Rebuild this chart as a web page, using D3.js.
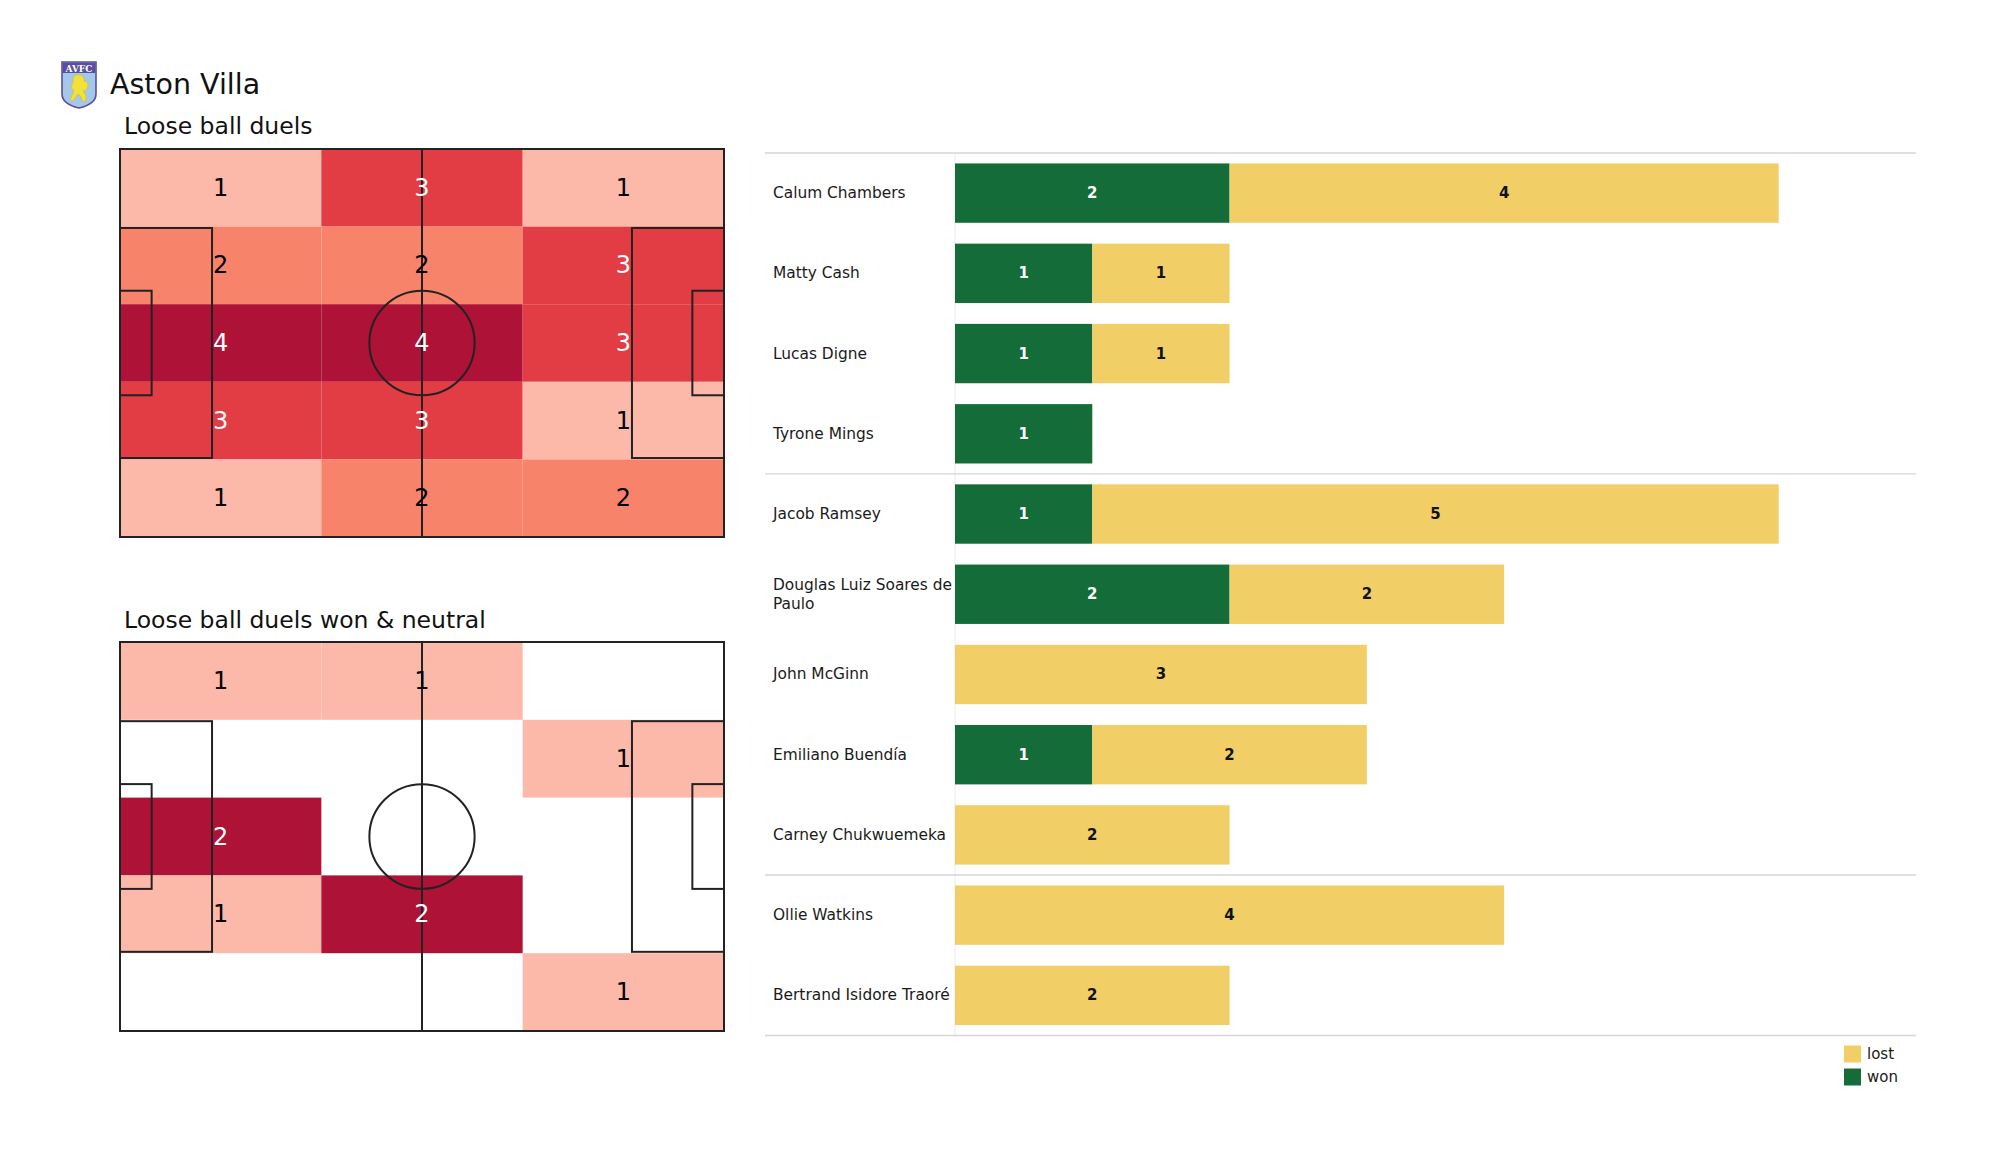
<!DOCTYPE html>
<html>
<head>
<meta charset="utf-8">
<script src="https://cdn.jsdelivr.net/npm/d3@7"></script>
<style>
  html, body { margin: 0; padding: 0; background: #fff; }
  svg { display: block; font-family: "DejaVu Sans", sans-serif; }
</style>
</head>
<body>
<svg id="chart" width="2000" height="1175"></svg>
<script>
// ---------- DATA ----------
const teamName = "Aston Villa";
const pitchTitles = ["Loose ball duels", "Loose ball duels won & neutral"];
// heatmap rows top -> bottom, columns left -> right
const duelsGrid = [
  [1, 3, 1],
  [2, 2, 3],
  [4, 4, 3],
  [3, 3, 1],
  [1, 2, 2]
];
const wonNeutralGrid = [
  [1, 1, 0],
  [0, 0, 1],
  [2, 0, 0],
  [1, 2, 0],
  [0, 0, 1]
];
const players = [
  "Calum Chambers", "Matty Cash", "Lucas Digne", "Tyrone Mings",
  "Jacob Ramsey", "Douglas Luiz Soares de Paulo", "John McGinn",
  "Emiliano Buendía", "Carney Chukwuemeka",
  "Ollie Watkins", "Bertrand Isidore Traoré"
];
const wonValues  = [2, 1, 1, 1, 1, 2, 0, 1, 0, 0, 0];
const lostValues = [4, 1, 1, 0, 5, 2, 3, 2, 2, 4, 2];
const groupSizes = [4, 5, 2];
const legendLabels = ["lost", "won"];

// ---------- STYLE ----------
const heatColors = ["#fcb9aa", "#f8836b", "#e23d45", "#ae1237"];
const wonColor = "#146c38";
const lostColor = "#f1ce66";
const lineColor = "#222";

const svg = d3.select("#chart");

// ---------- HEADER ----------
const logo = svg.append("g").attr("transform", "translate(61,60)");
logo.append("path")
  .attr("d", "M1,2 L35,2 L35,34 Q35,44 18,48 Q1,44 1,34 Z")
  .attr("fill", "#a3c8ea").attr("stroke", "#5a4f9e").attr("stroke-width", 1.6);
logo.append("path")
  .attr("d", "M1.8,2.8 L34.2,2.8 L34.2,13 L1.8,13 Z")
  .attr("fill", "#5a4f9e");
logo.append("text").attr("x", 18).attr("y", 11.5).attr("text-anchor", "middle")
  .attr("font-family", "DejaVu Serif, serif").attr("font-weight", "bold")
  .attr("font-size", 9).attr("fill", "#fff").text("AVFC");
logo.append("path")
  .attr("d", "M12,18 Q14,14 19,15 Q24,16 23,21 Q27,21 27,26 Q26,31 22,31 Q26,35 25,41 L21,41 Q21,36 17,34 Q14,38 12,41 L9,40 Q11,35 13,31 Q9,28 11,24 Q13,22 12,18 Z")
  .attr("fill", "#f2e13a").attr("stroke", "#d9b820").attr("stroke-width", 0.6);

svg.append("text").attr("x", 110).attr("y", 94)
  .attr("font-size", 28.5).attr("fill", "#111").text(teamName);

// ---------- PITCHES ----------
const pitchLen = 105, pitchWid = 68;
const pitchBoxes = [
  { x0: 120, x1: 724, y0: 149, y1: 537, titleY: 134, grid: duelsGrid },
  { x0: 120, x1: 724, y0: 642, y1: 1031, titleY: 628, grid: wonNeutralGrid }
];

pitchBoxes.forEach((pb, i) => {
  const xs = d3.scaleLinear().domain([0, pitchLen]).range([pb.x0, pb.x1]);
  const ys = d3.scaleLinear().domain([0, pitchWid]).range([pb.y0, pb.y1]);
  const g = svg.append("g");

  svg.append("text").attr("x", 124).attr("y", pb.titleY)
    .attr("font-size", 23.5).attr("fill", "#111").text(pitchTitles[i]);

  const nRows = pb.grid.length, nCols = pb.grid[0].length;
  const cw = pitchLen / nCols, ch = pitchWid / nRows;
  const flat = pb.grid.flat();
  const nz = flat.filter(v => v > 0);
  const vmin = d3.min(nz), vmax = d3.max(nz);
  const norm = v => vmax === vmin ? 1 : (v - vmin) / (vmax - vmin);
  const color = d3.scaleLinear().domain([0, 1/3, 2/3, 1]).range(heatColors);

  const cells = [];
  pb.grid.forEach((row, r) => row.forEach((v, c) => cells.push({ r, c, v })));

  g.selectAll("rect.cell").data(cells.filter(d => d.v > 0)).join("rect")
    .attr("x", d => xs(d.c * cw)).attr("y", d => ys(d.r * ch))
    .attr("width", d => xs((d.c + 1) * cw) - xs(d.c * cw))
    .attr("height", d => ys((d.r + 1) * ch) - ys(d.r * ch))
    .attr("fill", d => color(norm(d.v)));

  // pitch lines
  const lines = g.append("g").attr("fill", "none").attr("stroke", lineColor).attr("stroke-width", 2);
  lines.append("rect").attr("x", xs(0)).attr("y", ys(0))
    .attr("width", xs(pitchLen) - xs(0)).attr("height", ys(pitchWid) - ys(0));
  lines.append("line").attr("x1", xs(pitchLen / 2)).attr("x2", xs(pitchLen / 2))
    .attr("y1", ys(0)).attr("y2", ys(pitchWid));
  lines.append("ellipse").attr("cx", xs(pitchLen / 2)).attr("cy", ys(pitchWid / 2))
    .attr("rx", xs(9.15) - xs(0)).attr("ry", ys(9.15) - ys(0));
  const boxes = [[16.0, 40.32], [5.5, 18.32]];
  boxes.forEach(([d, w]) => {
    const yTop = (pitchWid - w) / 2;
    lines.append("rect").attr("x", xs(0)).attr("y", ys(yTop))
      .attr("width", xs(d) - xs(0)).attr("height", ys(w) - ys(0));
    lines.append("rect").attr("x", xs(pitchLen - d)).attr("y", ys(yTop))
      .attr("width", xs(d) - xs(0)).attr("height", ys(w) - ys(0));
  });

  g.selectAll("text.val").data(cells.filter(d => d.v > 0)).join("text")
    .attr("x", d => xs((d.c + 0.5) * cw)).attr("y", d => ys((d.r + 0.5) * ch))
    .attr("text-anchor", "middle").attr("dominant-baseline", "central")
    .attr("font-size", 24)
    .attr("fill", d => norm(d.v) > 0.5 ? "#fff" : "#000")
    .text(d => d.v);
});

// ---------- BAR CHART ----------
const x = d3.scaleLinear().domain([0, 7]).range([955, 1916]);
const y = d3.scaleBand().domain(players).range([153, 1035.5])
  .paddingInner(0.26).paddingOuter(0.13);
const step = y.step();
const bars = svg.append("g");

// vertical spine
bars.append("line").attr("x1", x(0)).attr("x2", x(0))
  .attr("y1", y.range()[0]).attr("y2", y.range()[1])
  .attr("stroke", "#eeeeee").attr("stroke-width", 1.2);

// group separators
const sepIdx = [0];
groupSizes.reduce((acc, s) => { sepIdx.push(acc + s); return acc + s; }, 0);
bars.selectAll("line.sep").data(sepIdx).join("line")
  .attr("x1", 765).attr("x2", 1916)
  .attr("y1", d => y.range()[0] + d * step).attr("y2", d => y.range()[0] + d * step)
  .attr("stroke", "#d6d6d6").attr("stroke-width", 1.4);

const rows = players.map((p, i) => ({ p, won: wonValues[i], lost: lostValues[i] }));
const segs = [];
rows.forEach(d => {
  if (d.won > 0) segs.push({ p: d.p, a: 0, b: d.won, v: d.won, type: "won" });
  if (d.lost > 0) segs.push({ p: d.p, a: d.won, b: d.won + d.lost, v: d.lost, type: "lost" });
});
bars.selectAll("rect.seg").data(segs).join("rect")
  .attr("x", d => x(d.a)).attr("width", d => x(d.b) - x(d.a))
  .attr("y", d => y(d.p)).attr("height", y.bandwidth())
  .attr("fill", d => d.type === "won" ? wonColor : lostColor);
bars.selectAll("text.seg").data(segs).join("text")
  .attr("x", d => (x(d.a) + x(d.b)) / 2).attr("y", d => y(d.p) + y.bandwidth() / 2)
  .attr("text-anchor", "middle").attr("dominant-baseline", "central")
  .attr("font-size", 15).attr("font-weight", "bold")
  .attr("fill", d => d.type === "won" ? "#fff" : "#111")
  .text(d => d.v);

// player names with wrapping
const nameG = bars.append("g");
players.forEach(p => {
  const cy = y(p) + y.bandwidth() / 2;
  const t = nameG.append("text").attr("x", 773).attr("font-size", 15.4).attr("fill", "#1a1a1a");
  const words = p.split(" ");
  let lines = [], cur = [];
  const probe = t.append("tspan");
  words.forEach(w => {
    const test = cur.concat([w]).join(" ");
    probe.text(test);
    if (probe.node().getComputedTextLength() > 190 && cur.length) {
      lines.push(cur.join(" ")); cur = [w];
    } else cur.push(w);
  });
  lines.push(cur.join(" "));
  probe.remove();
  const lh = 19;
  lines.forEach((ln, k) => {
    t.append("tspan").attr("x", 773)
      .attr("y", cy + (k - (lines.length - 1) / 2) * lh)
      .attr("dominant-baseline", "central").text(ln);
  });
});

// legend
const leg = svg.append("g");
const legColors = [lostColor, wonColor];
legendLabels.forEach((l, i) => {
  const cy = 1054 + i * 23;
  leg.append("rect").attr("x", 1844).attr("y", cy - 8.5).attr("width", 17).attr("height", 17)
    .attr("fill", legColors[i]);
  leg.append("text").attr("x", 1867).attr("y", cy).attr("dominant-baseline", "central")
    .attr("font-size", 15).attr("fill", "#1a1a1a").text(l);
});
</script>
</body>
</html>
